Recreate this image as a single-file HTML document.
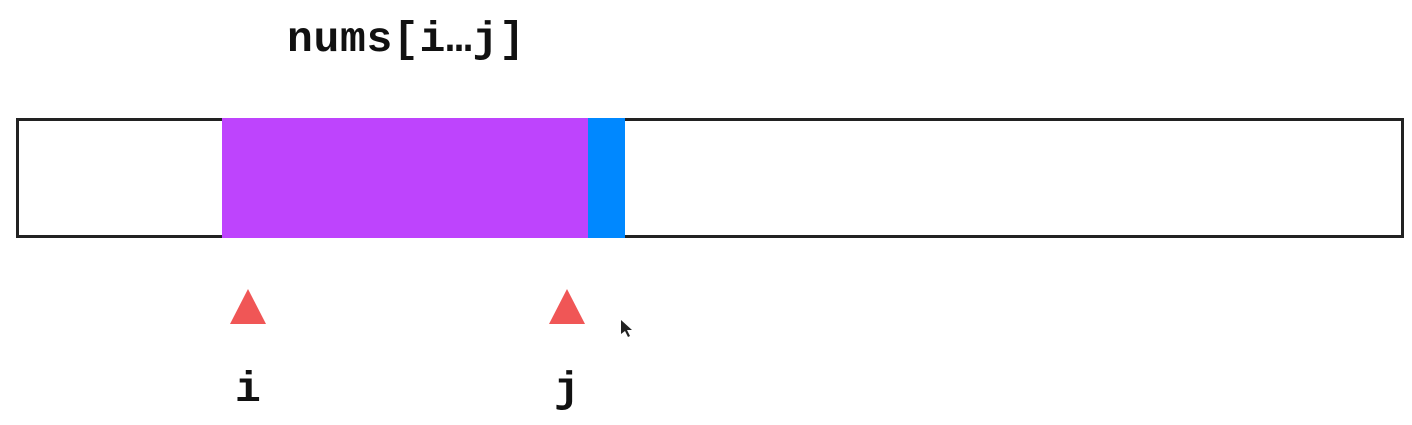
<!DOCTYPE html>
<html><head><style>
body{margin:0;width:1412px;height:425px;background:#fff;overflow:hidden;position:relative;font-family:"Liberation Mono","DejaVu Sans Mono",monospace;font-weight:bold;color:#111}
.t{position:absolute;white-space:nowrap}
</style></head><body>
<div class="t" style="left:287px;top:15px;font-size:43px;line-height:50px;letter-spacing:0.7px">nums[i…j]</div>
<svg width="1412" height="425" style="position:absolute;left:0;top:0">
<rect x="17.5" y="119.5" width="1385" height="117" fill="#fff" stroke="#222" stroke-width="3"/>
<rect x="222" y="118" width="366" height="120" fill="#be44fd"/>
<rect x="588" y="118" width="37" height="120" fill="#0088ff"/>
<polygon points="248,289 230,324 266,324" fill="#f05656"/>
<polygon points="567,289 549,324 585,324" fill="#f05656"/>
<polygon points="621,320 621,334 625,331 628,337 630,336 627,330 632,330" fill="#222"/>
</svg>
<div class="t" style="left:235px;top:365px;font-size:43px;line-height:50px">i</div>
<div class="t" style="left:554px;top:365px;font-size:43px;line-height:50px">j</div>
</body></html>
